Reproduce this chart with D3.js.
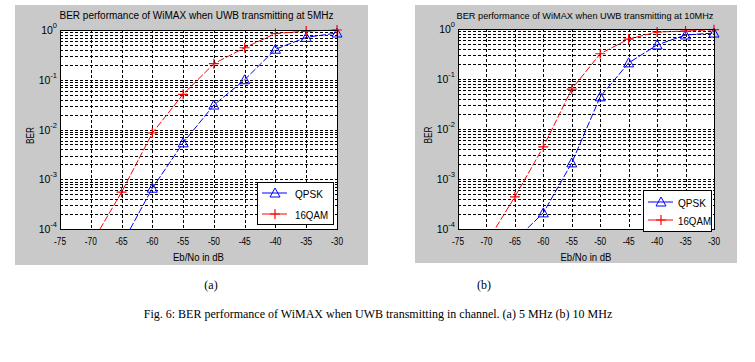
<!DOCTYPE html>
<html>
<head>
<meta charset="utf-8">
<title>BER performance</title>
<style>
  body { margin: 0; background: #fff; }
  svg { display: block; }
  text { font-family: "Liberation Sans", Arial, sans-serif; fill: #000; }
  .cap { font-family: "Liberation Serif", "Times New Roman", serif; }
</style>
</head>
<body>
<script src="https://cdn.jsdelivr.net/npm/d3@7"></script>
<script>
const ebno = [-70, -65, -60, -55, -50, -45, -40, -35, -30];
const xTicks = [-75, -70, -65, -60, -55, -50, -45, -40, -35, -30];
const yTicks = [1e-4, 1e-3, 1e-2, 1e-1, 1];

// panel (a) 5 MHz
const qpsk5 = [null, 4.8e-5, 6.6e-4, 5.4e-3, 0.031, 0.10, 0.41, 0.71, 0.87];
const qam5 = [4.8e-5, 5.5e-4, 8.5e-3, 0.051, 0.21, 0.44, 0.85, 0.95, 1.0];
// panel (b) 10 MHz
const qpsk10 = [null, 5.9e-5, 2.1e-4, 2.1e-3, 0.044, 0.21, 0.48, 0.76, 0.83];
const qam10 = [5.3e-5, 4.4e-4, 4.4e-3, 0.063, 0.32, 0.63, 0.87, 0.91, 0.97];

const seriesNames = ['QPSK', '16QAM'];
const legendWidths = [28, 33];

const svg = d3.select('body').append('svg')
  .attr('width', 755).attr('height', 362);

const defs = svg.append('defs');

function panel(cfg) {
  const g = svg.append('g');
  g.append('rect')
    .attr('x', cfg.box[0]).attr('y', cfg.box[1])
    .attr('width', cfg.box[2]).attr('height', cfg.box[3])
    .attr('fill', '#c9c9c9');

  const x = d3.scaleLinear().domain([-75, -30]).range([cfg.left, cfg.right]);
  const y = d3.scaleLog().domain([1e-4, 1]).range([cfg.bottom, cfg.top]);

  g.append('rect')
    .attr('x', cfg.left).attr('y', cfg.top)
    .attr('width', cfg.right - cfg.left).attr('height', cfg.bottom - cfg.top)
    .attr('fill', '#fff');

  // grid
  const minor = [];
  for (let e = -4; e < 0; e++) for (let m = 1; m <= 9; m++) minor.push(m * Math.pow(10, e));
  g.append('g').selectAll('line').data(minor.filter(v => v > 1e-4)).join('line')
    .attr('x1', cfg.left).attr('x2', cfg.right)
    .attr('y1', d => Math.round(y(d)) + 0.5).attr('y2', d => Math.round(y(d)) + 0.5)
    .attr('stroke', '#000').attr('stroke-width', 1).attr('stroke-dasharray', '3,2');
  g.append('g').selectAll('line').data(xTicks.slice(1, -1)).join('line')
    .attr('x1', d => Math.round(x(d)) + 0.5).attr('x2', d => Math.round(x(d)) + 0.5)
    .attr('y1', cfg.top).attr('y2', cfg.bottom)
    .attr('stroke', '#000').attr('stroke-width', 1).attr('stroke-dasharray', '3,2');

  // clip
  defs.append('clipPath').attr('id', cfg.id)
    .append('rect').attr('x', cfg.left).attr('y', cfg.top - 6)
    .attr('width', cfg.right - cfg.left + 6).attr('height', cfg.bottom - cfg.top + 6);

  const line = d3.line().defined(d => d[1] != null)
    .x(d => x(d[0])).y(d => y(d[1]));
  const plotG = g.append('g').attr('clip-path', `url(#${cfg.id})`);
  const sets = [
    { vals: cfg.qpsk, color: '#0000ff', mark: 'tri' },
    { vals: cfg.qam, color: '#ff0000', mark: 'plus' }
  ];
  sets.forEach(s => {
    const pts = ebno.map((e, i) => [e, s.vals[i]]);
    plotG.append('path').datum(pts).attr('d', line)
      .attr('fill', 'none').attr('stroke', s.color).attr('stroke-width', 1)
      .attr('stroke-dasharray', '7,2');
    const shown = pts.filter(p => p[1] != null && p[1] >= 1e-4);
    drawMarks(plotG, shown.map(p => [x(p[0]), y(p[1])]), s.mark, s.color);
  });

  // border
  g.append('rect')
    .attr('x', cfg.left + 0.5).attr('y', cfg.top + 0.5)
    .attr('width', cfg.right - cfg.left).attr('height', cfg.bottom - cfg.top)
    .attr('fill', 'none').attr('stroke', '#000');

  // x axis labels
  g.append('g').selectAll('text').data(xTicks).join('text')
    .attr('x', d => x(d)).attr('y', cfg.bottom + 16)
    .attr('text-anchor', 'middle').attr('font-size', 10.5)
    .attr('textLength', 12).attr('lengthAdjust', 'spacingAndGlyphs')
    .text(d => d);

  // y axis labels 10^k
  const yl = g.append('g').selectAll('text').data(yTicks).join('text')
    .attr('x', cfg.left - 3).attr('y', d => y(d) + 4)
    .attr('text-anchor', 'end').attr('font-size', 10.5);
  yl.append('tspan').text('10');
  yl.append('tspan').attr('dy', -6).attr('font-size', 7.5)
    .text(d => Math.round(Math.log10(d)) === 0 ? '0' : '-' + Math.abs(Math.round(Math.log10(d))));

  g.append('text').attr('x', (cfg.left + cfg.right) / 2 + cfg.titleDx).attr('y', 19)
    .attr('text-anchor', 'middle').attr('font-size', cfg.titleSize)
    .text(cfg.title);
  g.append('text').attr('x', (cfg.left + cfg.right) / 2).attr('y', cfg.bottom + 32)
    .attr('text-anchor', 'middle').attr('font-size', 11)
    .attr('textLength', 51).attr('lengthAdjust', 'spacingAndGlyphs')
    .text('Eb/No in dB');
  g.append('text')
    .attr('transform', `translate(${cfg.left - 26},${(cfg.top + cfg.bottom) / 2 + 6}) rotate(-90)`)
    .attr('text-anchor', 'middle').attr('font-size', 11)
    .attr('textLength', 17).attr('lengthAdjust', 'spacingAndGlyphs')
    .text('BER');

  // legend
  const L = cfg.legend;
  g.append('rect').attr('x', L.x + 0.5).attr('y', L.y + 0.5)
    .attr('width', L.w).attr('height', L.h)
    .attr('fill', '#fff').attr('stroke', '#000');
  seriesNames.forEach((n, i) => {
    const ly = L.y + L.rows[i];
    const c = sets[i].color;
    g.append('line').attr('x1', L.x + 5).attr('x2', L.x + 30)
      .attr('y1', ly).attr('y2', ly).attr('stroke', c);
    drawMarks(g, [[L.x + 18, ly]], sets[i].mark, c);
    g.append('text').attr('x', L.x + L.tx).attr('y', ly + 4.5)
      .attr('font-size', 11)
      .attr('textLength', legendWidths[i]).attr('lengthAdjust', 'spacingAndGlyphs')
      .text(n);
  });

  g.append('text').attr('class', 'cap').attr('x', cfg.capX).attr('y', 289)
    .attr('text-anchor', 'middle').attr('font-size', 12).text(cfg.cap);
}

function drawMarks(sel, pts, mark, color) {
  if (mark === 'tri') {
    sel.append('g').selectAll('path').data(pts).join('path')
      .attr('d', d => `M${d[0]},${d[1] - 5}L${d[0] + 5},${d[1] + 4}L${d[0] - 5},${d[1] + 4}Z`)
      .attr('fill', 'none').attr('stroke', color).attr('stroke-width', 1);
  } else {
    sel.append('g').selectAll('path').data(pts).join('path')
      .attr('d', d => `M${d[0] - 5},${d[1]}H${d[0] + 5}M${d[0]},${d[1] - 5}V${d[1] + 5}`)
      .attr('fill', 'none').attr('stroke', color).attr('stroke-width', 1.2);
  }
}

panel({
  id: 'clipA', box: [15, 5, 353, 260],
  left: 60, right: 337, top: 30, bottom: 229,
  qpsk: qpsk5, qam: qam5,
  title: 'BER performance of WiMAX when UWB transmitting at 5MHz', titleDx: -2, titleSize: 10,
  legend: { x: 257, y: 182, w: 76, h: 42, rows: [11, 32], tx: 38 },
  cap: '(a)', capX: 211
});

panel({
  id: 'clipB', box: [415, 5, 322, 258],
  left: 458, right: 714, top: 29, bottom: 229,
  qpsk: qpsk10, qam: qam10,
  title: 'BER performance of WiMAX when UWB transmitting at 10MHz', titleDx: -1, titleSize: 9.2,
  legend: { x: 643, y: 190, w: 68, h: 41, rows: [12, 30], tx: 35 },
  cap: '(b)', capX: 484
});

svg.append('text').attr('class', 'cap').attr('x', 378).attr('y', 318)
  .attr('text-anchor', 'middle').attr('font-size', 12)
  .text('Fig. 6: BER performance of WiMAX when UWB transmitting in channel. (a) 5 MHz (b) 10 MHz');
</script>
</body>
</html>
